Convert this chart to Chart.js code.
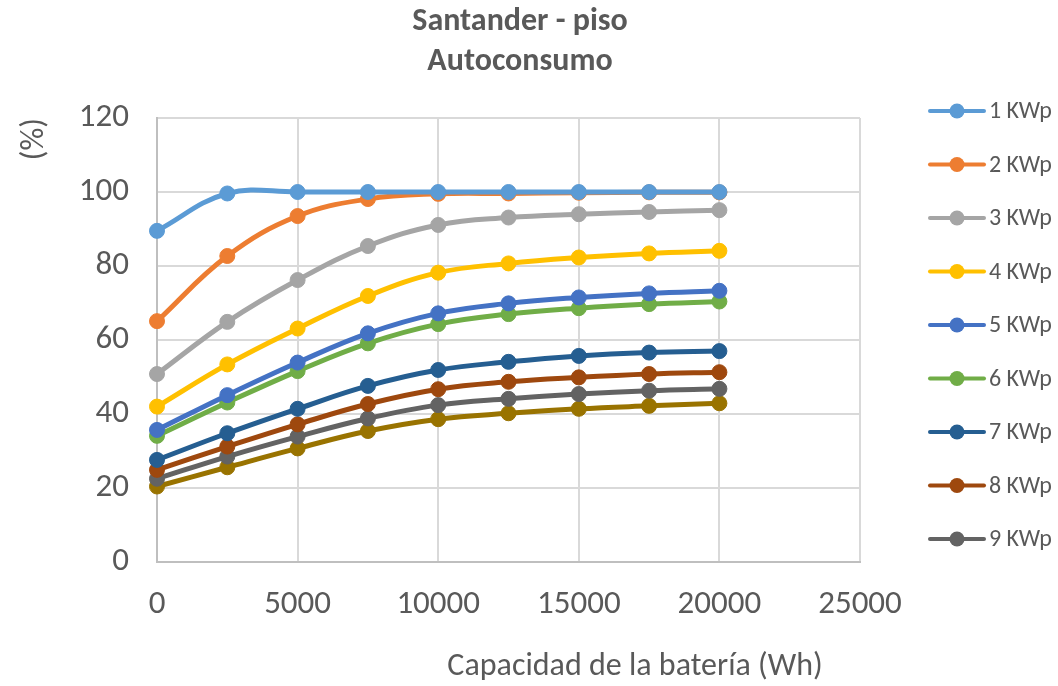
<!DOCTYPE html>
<html>
<head>
<meta charset="utf-8">
<script src="https://cdn.jsdelivr.net/npm/chart.js@4/dist/chart.umd.min.js"></script>
<style>
    html, body { margin: 0; padding: 0; background: #fff; }
    #wrap { width: 1058px; height: 686px; position: relative; }
</style>
</head>
<body>
<div id="wrap"><canvas id="autoconsumoChart"></canvas></div>
<script>
// Battery capacity (Wh) on the x axis
const capacities = [0, 2500, 5000, 7500, 10000, 12500, 15000, 17500, 20000];

// Self-consumption (%) for each installed PV power
const kwp1  = [89.5, 99.6, 100.0, 100.0, 100.0, 100.0, 100.0, 100.0, 100.0];
const kwp2  = [65.1, 82.7, 93.5, 98.1, 99.5, 99.6, 99.8, 99.9, 99.9];
const kwp3  = [50.8, 64.9, 76.2, 85.4, 91.1, 93.1, 94.0, 94.6, 95.1];
const kwp4  = [42.0, 53.4, 63.1, 71.9, 78.2, 80.7, 82.3, 83.4, 84.1];
const kwp5  = [35.7, 45.1, 53.9, 61.8, 67.2, 69.9, 71.5, 72.6, 73.3];
const kwp6  = [34.1, 43.1, 51.6, 59.1, 64.3, 67.0, 68.6, 69.7, 70.4];
const kwp7  = [27.6, 34.8, 41.4, 47.6, 51.9, 54.1, 55.7, 56.6, 57.0];
const kwp8  = [24.9, 31.2, 37.2, 42.7, 46.7, 48.7, 49.9, 50.8, 51.3];
const kwp9  = [22.5, 28.5, 33.9, 38.8, 42.4, 44.1, 45.4, 46.3, 46.8];
const kwp10 = [20.4, 25.6, 30.7, 35.4, 38.6, 40.2, 41.4, 42.2, 42.9];

const seriesNames  = ["1 KWp", "2 KWp", "3 KWp", "4 KWp", "5 KWp", "6 KWp", "7 KWp", "8 KWp", "9 KWp", "10 KWp"];
const seriesValues = [kwp1, kwp2, kwp3, kwp4, kwp5, kwp6, kwp7, kwp8, kwp9, kwp10];
const seriesColors = ["#5B9BD5", "#ED7D31", "#A5A5A5", "#FFC000", "#4472C4",
                      "#70AD47", "#255E91", "#9E480E", "#636363", "#997300"];
const legendCount = 9; // the last series doesn't fit in the legend column

const xTicks = [0, 5000, 10000, 15000, 20000, 25000];
const yTicks = [0, 20, 40, 60, 80, 100, 120];

const textColor = "#595959";
const fontFamily = "Carlito, Calibri, 'Open Sans', sans-serif";

// Legend column on the right: line + marker + label
const sideLegend = {
    id: "sideLegend",
    afterDraw(chart) {
        const { ctx, chartArea } = chart;
        const x0 = chartArea.right + 70;
        const step = 53.5;
        ctx.save();
        chart.data.datasets.slice(0, legendCount).forEach((ds, i) => {
            const y = chartArea.top - 7 + i * step;
            ctx.strokeStyle = ds.borderColor;
            ctx.lineWidth = 4;
            ctx.lineCap = "round";
            ctx.beginPath();
            ctx.moveTo(x0, y);
            ctx.lineTo(x0 + 54, y);
            ctx.stroke();
            ctx.fillStyle = ds.backgroundColor;
            ctx.beginPath();
            ctx.arc(x0 + 27, y, 7.5, 0, Math.PI * 2);
            ctx.fill();
            ctx.fillStyle = textColor;
            ctx.font = "24px " + fontFamily;
            ctx.textBaseline = "middle";
            ctx.textAlign = "left";
            ctx.fillText(ds.label, x0 + 59, y + 1);
        });
        ctx.restore();
    }
};

// X axis title sits right of centre, under the tick labels
const xAxisTitle = {
    id: "xAxisTitle",
    afterDraw(chart) {
        const { ctx, chartArea } = chart;
        ctx.save();
        ctx.fillStyle = textColor;
        ctx.font = "32px " + fontFamily;
        ctx.textAlign = "center";
        ctx.textBaseline = "middle";
        ctx.fillText("Capacidad de la batería (Wh)", chartArea.left + chartArea.width * 0.68, chart.height - 19);
        ctx.restore();
    }
};

const datasets = seriesValues.map((vals, i) => ({
    label: seriesNames[i],
    data: capacities.map((c, j) => ({ x: c, y: vals[j] })),
    borderColor: seriesColors[i],
    backgroundColor: seriesColors[i],
    pointBackgroundColor: seriesColors[i],
    pointBorderColor: seriesColors[i],
    borderWidth: 5,
    pointRadius: 7.5,
    pointBorderWidth: 1,
    tension: 0.4,
    clip: false
}));

new Chart(document.getElementById("autoconsumoChart"), {
    type: "line",
    data: { datasets: datasets },
    options: {
        responsive: true,
        maintainAspectRatio: false,
        animation: false,
        layout: { padding: { left: 0, right: 18, top: 0, bottom: 62.6 } },
        plugins: {
            legend: { display: false },
            tooltip: { enabled: false },
            title: {
                display: true,
                text: ["Santander - piso", "Autoconsumo"],
                color: textColor,
                font: { family: fontFamily, size: 32, weight: "bold", lineHeight: 1.25 },
                padding: { top: 2, bottom: 36 }
            }
        },
        scales: {
            x: {
                type: "linear",
                min: xTicks[0],
                max: xTicks[xTicks.length - 1],
                afterBuildTicks: s => { s.ticks = xTicks.map(v => ({ value: v })); },
                afterFit: s => { s.height = 61.4; },
                ticks: {
                    color: textColor,
                    font: { family: fontFamily, size: 33 },
                    padding: 23,
                    maxRotation: 0,
                    callback: v => String(v)
                },
                grid: { color: "#D9D9D9", lineWidth: 2, drawTicks: false },
                border: { color: "#BFBFBF", width: 2 }
            },
            y: {
                min: yTicks[0],
                max: yTicks[yTicks.length - 1],
                afterBuildTicks: s => { s.ticks = yTicks.map(v => ({ value: v })); },
                afterFit: s => { s.width = 157; },
                ticks: {
                    color: textColor,
                    font: { family: fontFamily, size: 33 },
                    padding: 28,
                    callback: v => String(v)
                },
                title: {
                    display: true,
                    text: "(%)",
                    align: "end",
                    color: textColor,
                    font: { family: fontFamily, size: 32 },
                    padding: { top: 16, bottom: 0 }
                },
                grid: { color: "#D9D9D9", lineWidth: 2, drawTicks: false },
                border: { color: "#BFBFBF", width: 2 }
            },
            // empty right-hand strip that holds the legend column
            legendSpace: {
                position: "right",
                min: 0,
                max: 1,
                afterFit: s => { s.width = 180; },
                ticks: { display: false },
                grid: { display: false },
                border: { display: false }
            }
        }
    },
    plugins: [sideLegend, xAxisTitle]
});
</script>
</body>
</html>
